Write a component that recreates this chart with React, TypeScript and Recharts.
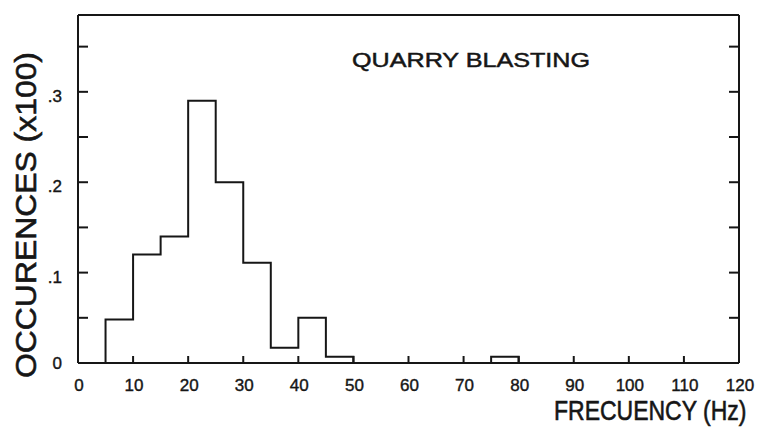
import { LineChart, Line, XAxis, YAxis } from "recharts";

// bin edges (Hz) and occurrences (x100) for each 5 Hz bin starting at that edge
const binEdges = [0, 5, 10, 15, 20, 25, 30, 35, 40, 45, 50, 55, 60, 65, 70, 75, 80, 85, 90, 95, 100, 105, 110, 115, 120];
const occurrences = [0, 0.048, 0.12, 0.14, 0.29, 0.2, 0.111, 0.017, 0.05, 0.007, 0, 0, 0, 0, 0, 0.007, 0, 0, 0, 0, 0, 0, 0, 0, 0];

const xTicks = [0, 10, 20, 30, 40, 50, 60, 70, 80, 90, 100, 110, 120];
const yTicks = [0, 0.05, 0.1, 0.15, 0.2, 0.25, 0.3, 0.35];
const yTickLabels = ["0", "", ".1", "", ".2", "", ".3", ""];

const data = binEdges.map((hz, i) => ({ hz, v: occurrences[i] }));

const INK = "#161616";
const FONT = "'Liberation Sans', Arial, sans-serif";

const XTick = (props: any) => {
  const { x, y, payload } = props;
  return (
    <g>
      <line x1={x} y1={y} x2={x} y2={y - 7} stroke={INK} strokeWidth={2} />
      <text x={x + 1} y={y + 28} textAnchor="middle" fontSize={17} fontFamily={FONT} fill={INK} stroke={INK} strokeWidth={0.4}>
        {payload.value}
      </text>
    </g>
  );
};

const YTickLeft = (props: any) => {
  const { x, y, payload, index } = props;
  const label = yTickLabels[index] ?? "";
  return (
    <g>
      <line x1={x} y1={y} x2={x + 10} y2={y} stroke={INK} strokeWidth={2} />
      {label && (
        <text x={x - 16} y={y + (payload.value === 0 ? 6 : 10)} textAnchor="end" fontSize={17} fontFamily={FONT} fill={INK} stroke={INK} strokeWidth={0.4}>
          {label}
        </text>
      )}
    </g>
  );
};

const YTickRight = (props: any) => {
  const { x, y } = props;
  return <line x1={x} y1={y} x2={x - 10} y2={y} stroke={INK} strokeWidth={2} />;
};

export default function App() {
  return (
    <div style={{ position: "absolute", left: 0, top: 0, width: 760, height: 427, background: "#fff" }}>
      <LineChart width={760} height={427} data={data} margin={{ top: 14, right: 20, bottom: 63, left: 77 }}>
        <XAxis
          dataKey="hz"
          type="number"
          domain={[0, 120]}
          ticks={xTicks}
          interval={0}
          height={1}
          tickSize={0}
          tickMargin={0}
          tickLine={false}
          tick={<XTick />}
          axisLine={{ stroke: INK, strokeWidth: 2 }}
        />
        <XAxis
          xAxisId="top"
          orientation="top"
          dataKey="hz"
          type="number"
          domain={[0, 120]}
          height={1}
          tick={false}
          tickLine={false}
          axisLine={{ stroke: INK, strokeWidth: 2 }}
        />
        <YAxis
          type="number"
          domain={[0, 0.385]}
          ticks={yTicks}
          interval={0}
          width={1}
          tickSize={0}
          tickMargin={0}
          tickLine={false}
          tick={<YTickLeft />}
          axisLine={{ stroke: INK, strokeWidth: 2 }}
        />
        <YAxis
          yAxisId="right"
          orientation="right"
          type="number"
          domain={[0, 0.385]}
          ticks={yTicks}
          interval={0}
          width={1}
          tickSize={0}
          tickMargin={0}
          tickLine={false}
          tick={<YTickRight />}
          axisLine={{ stroke: INK, strokeWidth: 2 }}
        />
        <Line
          dataKey="v"
          type="stepAfter"
          stroke={INK}
          strokeWidth={2}
          dot={false}
          isAnimationActive={false}
        />
        <Line
          dataKey="v"
          xAxisId="top"
          yAxisId="right"
          stroke="none"
          dot={false}
          isAnimationActive={false}
        />
        <text x={352} y={67} fontSize={21} fontFamily={FONT} fill={INK} stroke={INK} strokeWidth={0.5} textLength={238} lengthAdjust="spacingAndGlyphs">
          QUARRY BLASTING
        </text>
        <text
          x={0}
          y={0}
          transform="translate(36 378) rotate(-90)"
          fontSize={30}
          fontFamily={FONT}
          fill={INK}
          stroke={INK}
          strokeWidth={0.6}
          textLength={326}
          lengthAdjust="spacingAndGlyphs"
        >
          OCCURENCES (x100)
        </text>
        <text
          x={0}
          y={0}
          transform="translate(554 420) scale(1 1.2)"
          fontSize={23}
          fontFamily={FONT}
          fill={INK}
          stroke={INK}
          strokeWidth={0.5}
        >
          FRECUENCY (Hz)
        </text>
      </LineChart>
    </div>
  );
}
